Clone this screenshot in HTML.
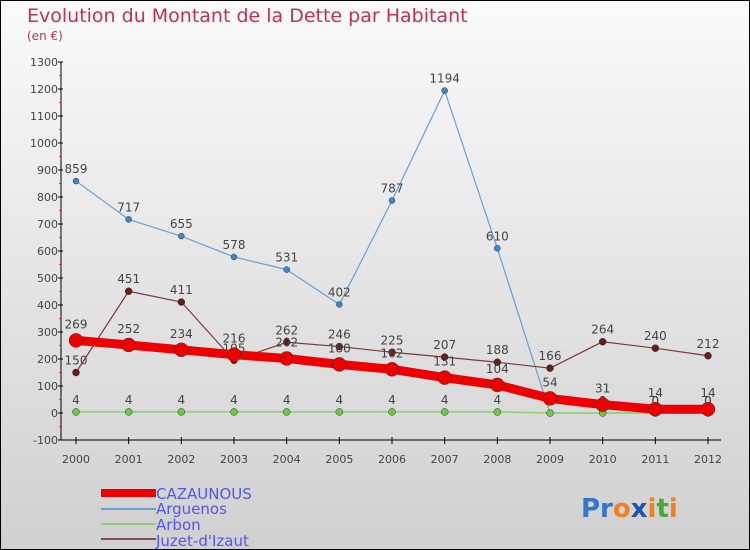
<!DOCTYPE html>
<html><head><meta charset="utf-8"><style>
body{margin:0}
#c{width:748px;height:548px;border:1px solid #000;background:linear-gradient(#fafafa,#d0d0d0);position:relative;font-family:"DejaVu Sans","Liberation Sans",sans-serif}
</style></head><body>
<div id="c">
<svg id="s" width="748" height="548" style="position:absolute;left:0;top:0">
<text x="26" y="21" font-size="19" fill="#c0305a">Evolution du Montant de la Dette par Habitant</text>
<text x="26" y="39" font-size="12" fill="#c0305a">(en €)</text>
<g id="ax"></g><g id="ser"></g>
<g font-size="15" fill="#5555ee">
<rect x="100" y="488" width="55" height="8" fill="#e00"/>
<text x="155" y="498">CAZAUNOUS</text>
<line x1="100" y1="508" x2="155" y2="508" stroke="#6aa0d0" stroke-width="2"/>
<text x="155" y="513">Arguenos</text>
<line x1="100" y1="523" x2="155" y2="523" stroke="#8cd070" stroke-width="2"/>
<text x="155" y="529">Arbon</text>
<line x1="100" y1="538" x2="155" y2="538" stroke="#805050" stroke-width="2"/>
<text x="155" y="545">Juzet-d'Izaut</text>
</g>
<text x="580" y="516" font-size="26" font-weight="bold"><tspan fill="#3377cc">Pr</tspan><tspan fill="#f08020">o</tspan><tspan fill="#2255aa">x</tspan><tspan fill="#f08020">i</tspan><tspan fill="#44aa33">t</tspan><tspan fill="#f08020">i</tspan></text>
</svg></div>
<script>
const years=[2000,2001,2002,2003,2004,2005,2006,2007,2008,2009,2010,2011,2012];
const yTicks=[-100,0,100,200,300,400,500,600,700,800,900,1000,1100,1200,1300];
const cazaunous=[269,252,234,216,202,180,162,131,104,54,31,14,14];
const arguenos=[859,717,655,578,531,402,787,1194,610,0,0,0,0];
const arbon=[4,4,4,4,4,4,4,4,4,0,0,0,0];
const juzet=[150,451,411,195,262,246,225,207,188,166,264,240,212];
const NS="http://www.w3.org/2000/svg";
const X=i=>75+i*(707-75)/12;
const Y=v=>412-v*0.27;
function mk(t,a,p){const e=document.createElementNS(NS,t);for(const k in a)e.setAttribute(k,a[k]);p.appendChild(e);return e;}
const ax=document.getElementById('ax');
const yl=mk('line',{x1:60,y1:Y(1300),x2:60,y2:Y(-100),stroke:'#000'},ax);


const xl=mk('line',{x1:60,y1:Y(-100),x2:720,y2:Y(-100),stroke:'#000'},ax);


yTicks.forEach(v=>{
 mk('line',{x1:57,y1:Y(v),x2:62,y2:Y(v),stroke:'#000'},ax);
 if(v<1300)mk('line',{x1:58,y1:Y(v+50),x2:61,y2:Y(v+50),stroke:'#e33'},ax);
 const t=mk('text',{x:57,y:Y(v)+4,'text-anchor':'end','font-size':11,fill:'#444'},ax);t.textContent=v;
 
 
});
years.forEach((y,i)=>{
 mk('line',{x1:X(i),y1:Y(-100)-3,x2:X(i),y2:Y(-100)+4,stroke:'#000'},ax);
 const t=mk('text',{x:X(i),y:Y(-100)+23,'text-anchor':'middle','font-size':11,fill:'#444'},ax);t.textContent=y;
 
 
});
const ser=document.getElementById('ser');
function draw(d,name,col,w,r,fill,dy){
 const g=mk('g',{},ser);
 
 
 const p=mk('polyline',{points:d.map((v,i)=>X(i)+','+Y(v)).join(' '),fill:'none',stroke:col,'stroke-width':w,'stroke-linejoin':'round'},g);
 
 
 d.forEach((v,i)=>{
  const c=mk('circle',{cx:X(i),cy:Y(v),r:r,fill:fill,stroke:'#333','stroke-width':0.5},g);
  
  
  const t=mk('text',{x:X(i),y:Y(v)-dy,'text-anchor':'middle','font-size':12,fill:'#444'},g);t.textContent=v;
  
  
 });
}
draw(arguenos,'arguenos','#6aa0d0',1.2,3,'#3a88cc',8);
draw(arbon,'arbon','#8cd070',1.5,3.5,'#66cc44',8);
draw(juzet,'juzet','#7a3a3a',1.2,3.5,'#6a1a1a',8);
draw(cazaunous,'cazaunous','#ee0000',9,7,'#ee0000',12);
</script>
</body></html>
